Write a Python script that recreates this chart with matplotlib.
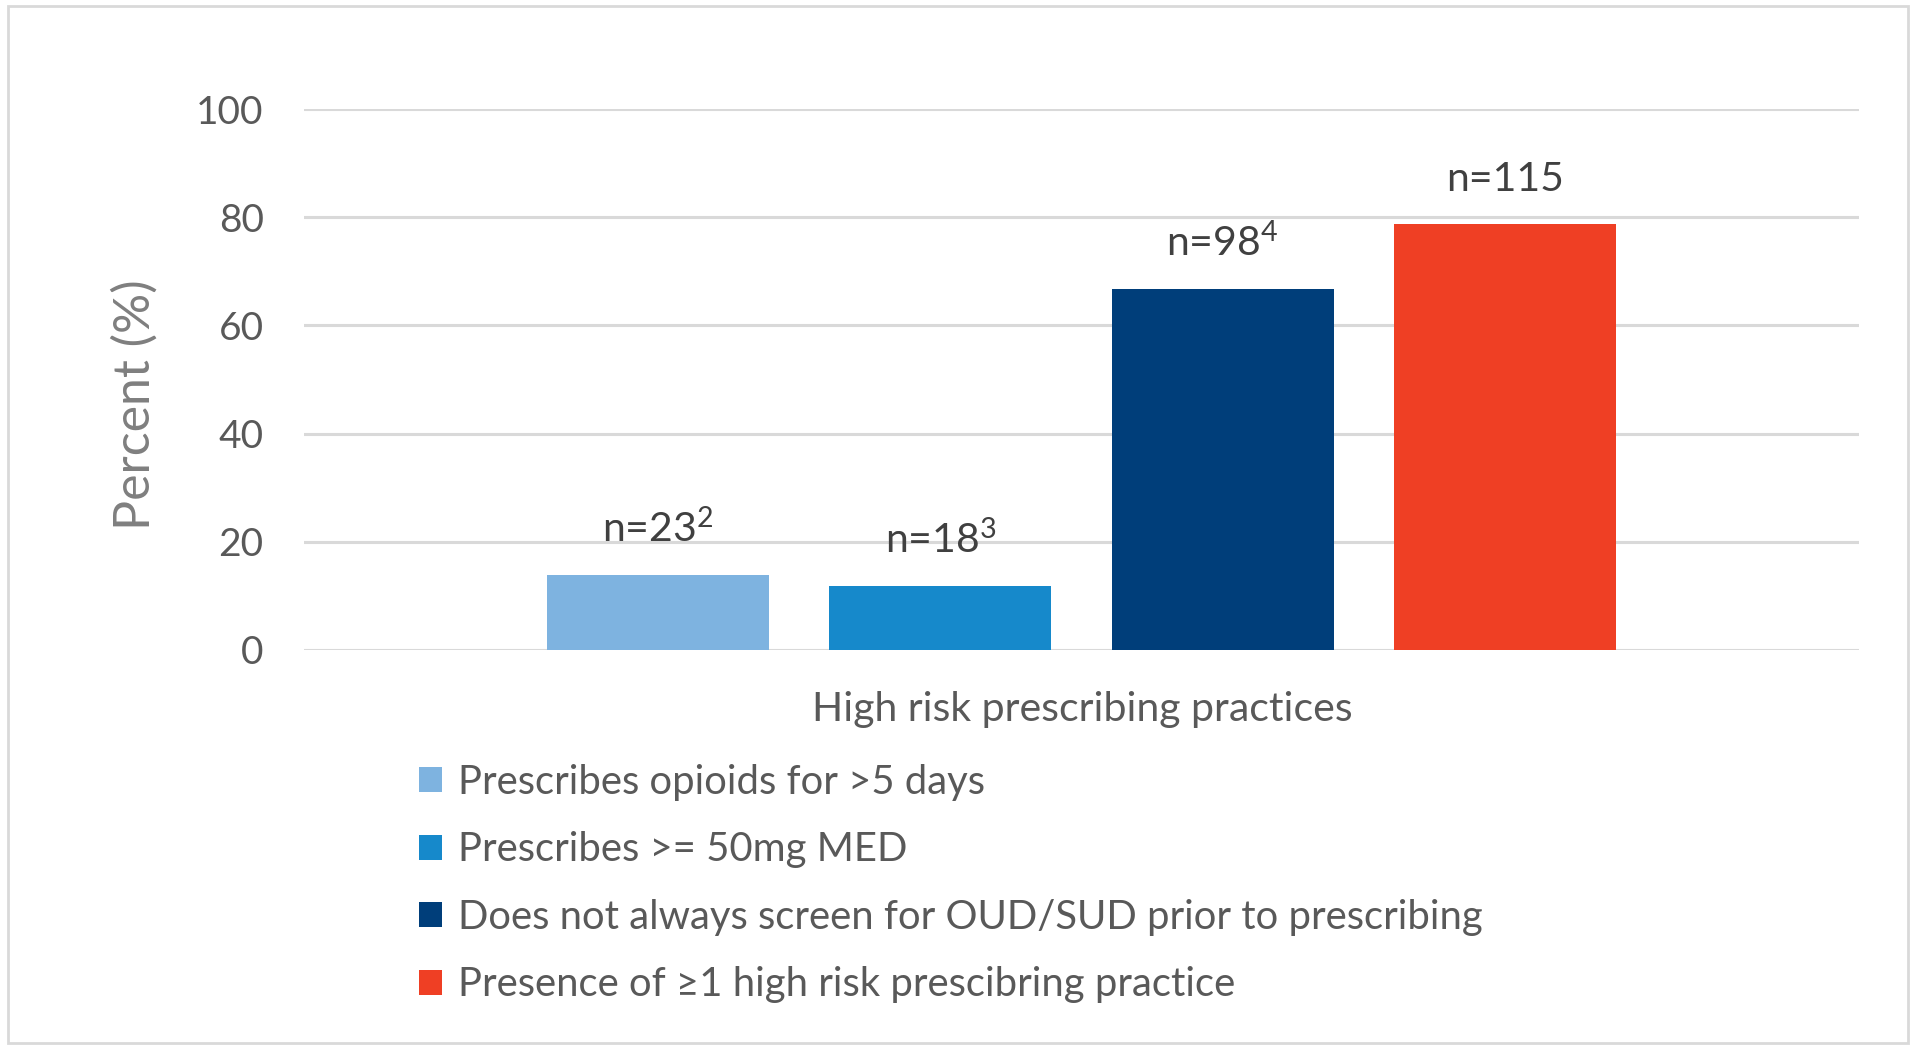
import matplotlib
matplotlib.use('Agg')
import matplotlib.pyplot as plt
from matplotlib.patches import Rectangle

plt.rcParams['font.family'] = ['Lato', 'DejaVu Sans']
plt.rcParams['mathtext.fontset'] = 'custom'
plt.rcParams['mathtext.rm'] = 'Lato'
plt.rcParams['mathtext.default'] = 'regular'

# ===== data =====
series = ['Prescribes opioids for >5 days',
          'Prescribes >= 50mg MED',
          'Does not always screen for OUD/SUD prior to prescribing',
          'Presence of \u22651 high risk prescibring practice']
percent = [13.8, 11.8, 66.7, 78.7]
n_labels = ['n=23$^{2}$', 'n=18$^{3}$', 'n=98$^{4}$', 'n=115']
colors = ['#7EB3E0', '#1689CB', '#003E7A', '#EF3F24']
category = 'High risk prescribing practices'
yticks = [0, 20, 40, 60, 80, 100]

W, H = 1920, 1049
fig = plt.figure(figsize=(W / 100, H / 100), dpi=100)

# chart border
fig.patches.append(Rectangle((8 / W, 6 / H), 1900 / W, 1037 / H, transform=fig.transFigure,
                             fill=False, edgecolor='#D9D9D9', linewidth=2))

ax = fig.add_axes([304 / W, 1 - 650 / H, 1555 / W, 541 / H])
x = list(range(len(percent)))
bars = ax.bar(x, percent, width=0.787, color=colors, zorder=3)

for b, lab in zip(bars, n_labels):
    ax.annotate(lab, (b.get_x() + b.get_width() / 2, b.get_height()),
                xytext=(0, 24), textcoords='offset points', ha='center', va='baseline',
                fontsize=29.5, color='#404040')

ax.set_xlim(1.5 - 2.755, 1.5 + 2.755)
ax.set_ylim(0, 100)
ax.set_yticks(yticks)
ax.yaxis.grid(True, color='#D9D9D9', linewidth=2.2, zorder=0)
ax.set_xticks([])
ax.tick_params(axis='y', length=0, pad=29, labelsize=28, labelcolor='#595959')
for s in ax.spines.values():
    s.set_visible(False)

fig.text(1082 / W, 1 - 710 / H, category, ha='center', va='center', fontsize=29.5, color='#595959')
fig.text(135 / W, 1 - 405 / H, 'Percent (%)', ha='center', va='center', rotation=90,
         fontsize=36, color='#7F7F7F')

leg = fig.legend(bars, series, loc='upper left', bbox_to_anchor=(419 / W, 1 - 764 / H),
                 frameon=False, fontsize=28.8, handlelength=0.58, handleheight=0.58,
                 handletextpad=0.4, labelspacing=0.76, borderpad=0, borderaxespad=0)
for t in leg.get_texts():
    t.set_color('#595959')

fig.savefig('out.png', dpi=100)
